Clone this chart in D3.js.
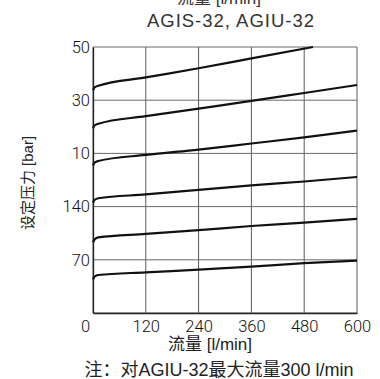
<!DOCTYPE html>
<html>
<head>
<meta charset="utf-8">
<script src="https://cdn.jsdelivr.net/npm/d3@7"></script>
<style>
  body { margin: 0; background: #fff; }
  .tick text { font-family: Roboto, "DejaVu Sans", sans-serif; font-weight: 300; }
</style>
</head>
<body>
<div class="chart"></div>
<script>
// data: [flow l/min, pressure bar]
var curve350 = [[0, 293], [4, 297], [12, 299], [120, 310], [240, 322], [360, 335], [500, 350]];
var curve280 = [[0, 243], [4, 247], [12, 249], [120, 259], [240, 269], [360, 279], [480, 289.5], [600, 300]];
var curve210 = [[0, 194], [4, 198], [12, 200], [120, 208], [240, 215], [360, 223], [480, 231], [600, 240]];
var curve140 = [[0, 145], [4, 149], [12, 151], [120, 156], [240, 162], [360, 168], [480, 173], [600, 179]];
var curve100 = [[0, 93], [4, 97], [12, 99.5], [120, 104], [240, 109], [360, 114.5], [480, 119], [600, 124]];
var curve50 = [[0, 44], [4, 48], [12, 50], [120, 53.5], [240, 57], [360, 61], [480, 65.5], [600, 69]];

var xTicks = [0, 120, 240, 360, 480, 600];
var yTicks = [0, 70, 140, 210, 280, 350];
// the y labels are cut on the left in the original, keep what is visible
var yTickLabels = ["", "70", "140", "10", "30", "50"];

var topText = "流量 [l/min]";
var titleText = "AGIS-32, AGIU-32";
var xTitle = "流量 [l/min]";
var yTitle = "设定压力 [bar]";
var noteText = "注：对AGIU-32最大流量300 l/min";

//svg size and margins
var svgWidth = 380;
var svgHeight = 379;
var margin = { top: 47, right: 23, bottom: 66, left: 93 };
var chartWidth = svgWidth - margin.left - margin.right;
var chartHeight = svgHeight - margin.top - margin.bottom;

var svg = d3.select(".chart")
  .append("svg")
  .attr("width", svgWidth)
  .attr("height", svgHeight);

var chartGroup = svg.append("g")
  .attr("transform", `translate(${margin.left}, ${margin.top})`);

var xScale = d3.scaleLinear().domain([0, 600]).range([0, chartWidth]);
var yScale = d3.scaleLinear().domain([0, 350]).range([chartHeight, 0]);

/********************************************/
// grid
chartGroup.append("g")
  .selectAll("line.vgrid")
  .data(xTicks)
  .enter()
  .append("line")
  .attr("x1", d => xScale(d))
  .attr("x2", d => xScale(d))
  .attr("y1", 0)
  .attr("y2", chartHeight)
  .attr("stroke", "#5a5a5a")
  .attr("stroke-width", 1);

chartGroup.append("g")
  .selectAll("line.hgrid")
  .data(yTicks)
  .enter()
  .append("line")
  .attr("x1", 0)
  .attr("x2", chartWidth)
  .attr("y1", d => yScale(d))
  .attr("y2", d => yScale(d))
  .attr("stroke", "#6a6a6a")
  .attr("stroke-width", 1);

/********************************************/
// axes
var xAxis = d3.axisBottom(xScale).tickValues(xTicks).tickSize(0).tickPadding(7);
var yAxis = d3.axisLeft(yScale).tickValues(yTicks).tickSize(0).tickPadding(3)
  .tickFormat((d, i) => yTickLabels[i]);

var xg = chartGroup.append("g")
  .attr("transform", `translate(0, ${chartHeight})`)
  .call(xAxis);
var yg = chartGroup.append("g").call(yAxis);

[xg, yg].forEach(function (g) {
  g.select(".domain").attr("stroke", "#222").attr("stroke-width", 1.3);
  g.selectAll("text").attr("font-size", 16.5).attr("fill", "#111");
});
xg.selectAll(".tick").filter(d => d === 0).select("text").attr("dx", -8);

/********************************************/
// pressure curves
var line = d3.line()
  .x(d => xScale(d[0]))
  .y(d => yScale(d[1]))
  .curve(d3.curveMonotoneX);

chartGroup.selectAll("path.curve")
  .data([curve350, curve280, curve210, curve140, curve100, curve50])
  .enter()
  .append("path")
  .attr("class", "curve")
  .attr("d", line)
  .attr("fill", "none")
  .attr("stroke", "#111")
  .attr("stroke-width", 2.2);

/********************************************/
// texts
svg.append("text")
  .attr("x", 219).attr("y", 4)
  .attr("text-anchor", "middle")
  .attr("font-family", "Liberation Sans, Noto Sans CJK SC, sans-serif")
  .attr("font-size", 17)
  .attr("fill", "#333")
  .text(topText);

svg.append("text")
  .attr("x", 231).attr("y", 27)
  .attr("text-anchor", "middle")
  .attr("font-family", "Liberation Sans, sans-serif")
  .attr("font-size", 18.5)
  .attr("letter-spacing", 1)
  .attr("fill", "#333")
  .text(titleText);

svg.append("text")
  .attr("x", 210).attr("y", 350)
  .attr("text-anchor", "middle")
  .attr("font-family", "Liberation Sans, Noto Sans CJK SC, sans-serif")
  .attr("font-size", 17)
  .attr("fill", "#222")
  .text(xTitle);

svg.append("text")
  .attr("transform", "translate(33, 183) rotate(-90)")
  .attr("text-anchor", "middle")
  .attr("font-family", "Liberation Sans, Noto Sans CJK SC, sans-serif")
  .attr("font-size", 15)
  .attr("fill", "#222")
  .text(yTitle);

svg.append("text")
  .attr("x", 219).attr("y", 376)
  .attr("text-anchor", "middle")
  .attr("font-family", "Liberation Sans, Noto Sans CJK SC, sans-serif")
  .attr("font-size", 18)
  .attr("fill", "#222")
  .text(noteText);
</script>
</body>
</html>
